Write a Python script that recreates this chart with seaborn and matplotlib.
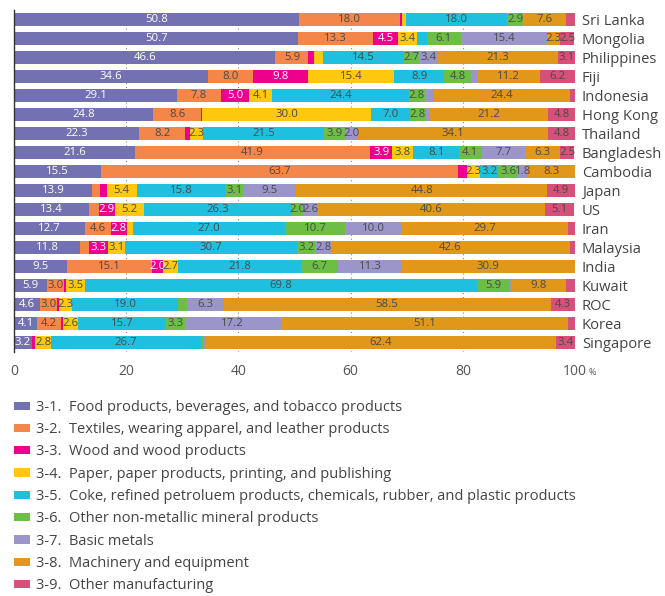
import numpy as np
import pandas as pd
import matplotlib
matplotlib.use("Agg")
import matplotlib.pyplot as plt
from matplotlib.patches import Patch
import seaborn as sns

countries = ["Sri Lanka", "Mongolia", "Philippines", "Fiji", "Indonesia", "Hong Kong",
             "Thailand", "Bangladesh", "Cambodia", "Japan", "US", "Iran", "Malaysia",
             "India", "Kuwait", "ROC", "Korea", "Singapore"]

sectors = ["3-1.  Food products, beverages, and tobacco products",
           "3-2.  Textiles, wearing apparel, and leather products",
           "3-3.  Wood and wood products",
           "3-4.  Paper, paper products, printing, and publishing",
           "3-5.  Coke, refined petroluem products, chemicals, rubber, and plastic products",
           "3-6.  Other non-metallic mineral products",
           "3-7.  Basic metals",
           "3-8.  Machinery and equipment",
           "3-9.  Other manufacturing"]

# shares (%) per sector, one value per country in the order above
food      = [50.8, 50.7, 46.6, 34.6, 29.1, 24.8, 22.3, 21.6, 15.5, 13.9, 13.4, 12.7, 11.8, 9.5, 5.9, 4.6, 4.1, 3.2]
textiles  = [18.0, 13.3, 5.9, 8.0, 7.8, 8.6, 8.2, 41.9, 63.7, 1.4, 1.7, 4.6, 1.6, 15.1, 3.0, 3.0, 4.2, 0.0]
wood      = [0.4, 4.5, 0.9, 9.8, 5.0, 0.2, 0.9, 3.9, 1.6, 1.2, 2.9, 2.8, 3.3, 2.0, 0.3, 0.4, 0.5, 0.6]
paper     = [0.7, 3.4, 1.6, 15.4, 4.1, 30.0, 2.3, 3.8, 2.3, 5.4, 5.2, 1.2, 3.1, 2.7, 3.5, 2.3, 2.6, 2.8]
coke      = [18.0, 1.7, 14.5, 8.9, 24.4, 7.0, 21.5, 8.1, 3.2, 15.8, 26.3, 27.0, 30.7, 21.8, 69.8, 19.0, 15.7, 26.7]
nonmetal  = [2.9, 6.1, 2.7, 4.8, 2.8, 2.8, 3.9, 4.1, 3.6, 3.1, 2.0, 10.7, 3.2, 6.7, 5.9, 1.6, 3.3, 0.6]
metals    = [0.0, 15.4, 3.4, 1.1, 1.6, 0.6, 2.0, 7.7, 1.8, 9.5, 2.6, 10.0, 2.8, 11.3, 0.2, 6.3, 17.2, 0.3]
machinery = [7.6, 2.3, 21.3, 11.2, 24.4, 21.2, 34.1, 6.3, 8.3, 44.8, 40.6, 29.7, 42.6, 30.9, 9.8, 58.5, 51.1, 62.4]
other     = [1.6, 2.5, 3.1, 6.2, 0.8, 4.8, 4.8, 2.5, 0.0, 4.9, 5.1, 1.3, 0.9, 0.0, 1.6, 4.3, 1.3, 3.4]

colors = ["#7471b3", "#f4864a", "#ec008c", "#fdc80e", "#1ebfdf",
          "#6dbe45", "#9b95c9", "#e0971a", "#d6507a"]
white_text = {0, 2}

df = pd.DataFrame(np.array([food, textiles, wood, paper, coke, nonmetal,
                            metals, machinery, other]).T,
                  index=countries, columns=sectors)
cum = df.cumsum(axis=1)

sns.set_style("white")
plt.rcParams["font.family"] = ["Open Sans", "DejaVu Sans"]

fig = plt.figure(figsize=(6.65, 5.96), dpi=100)
ax = fig.add_axes([0.021, 0.4094, 0.8436, 0.5738])
ax.set_axisbelow(True)
ax.grid(axis="x", linestyle=(0, (1, 2.5)), color="#8a8a8a", linewidth=0.8)

# stacked bars: draw cumulative totals from the right-most sector back to the first
for k in range(len(sectors) - 1, -1, -1):
    part = pd.DataFrame({"country": countries, "value": cum.iloc[:, k].values})
    sns.barplot(data=part, x="value", y="country", orient="h", color=colors[k],
                saturation=1, width=0.68, linewidth=0, ax=ax)

for i, c in enumerate(countries):
    for k in range(len(sectors)):
        v = df.iloc[i, k]
        if v >= 1.75:
            mid = cum.iloc[i, k] - v / 2
            ax.text(mid, i, f"{v:.1f}", ha="center", va="center", fontsize=8.2,
                    color="white" if k in white_text else "#4a4a4a")

ax.set_xlim(0, 100)
ax.set_ylim(17.5, -0.5)
ax.set_xticks([0, 20, 40, 60, 80, 100])
ax.set_xticklabels(["0", "20", "40", "60", "80", "100"])
ax.set_xlabel("")
ax.set_ylabel("")
ax.yaxis.tick_right()
ax.tick_params(axis="y", length=0, pad=5, labelsize=10.6, labelcolor="#444444")
ax.tick_params(axis="x", direction="inout", length=8, width=0.8, color="#444444",
               pad=5, labelsize=10, labelcolor="#555555")
for s in ["top", "right", "bottom"]:
    ax.spines[s].set_visible(False)
ax.spines["left"].set_color("#333333")
ax.spines["left"].set_linewidth(1.0)

ax.annotate("%", xy=(100, 0), xycoords=("data", "axes fraction"),
            xytext=(9.5, -14.5), textcoords="offset points", fontsize=6.5,
            color="#555555", va="center")

handles = [Patch(facecolor=col, edgecolor="none") for col in colors]
fig.legend(handles, sectors, loc="upper left", bbox_to_anchor=(0.021, 0.329),
           frameon=False, borderpad=0, borderaxespad=0, fontsize=10.5,
           handlelength=1.1, handleheight=0.5, handletextpad=0.42,
           labelspacing=0.5, labelcolor="#444444")

fig.savefig("out.png", dpi=100)
